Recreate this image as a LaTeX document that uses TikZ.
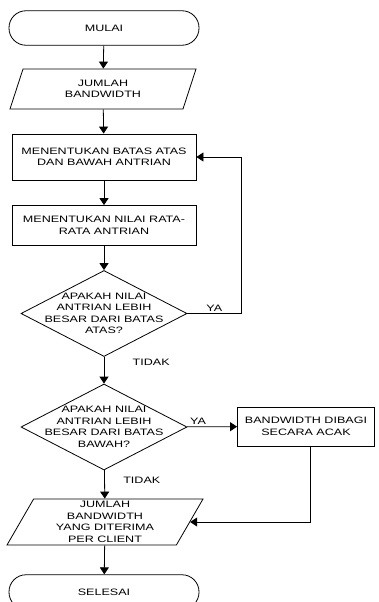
\documentclass[tikz,border=0pt]{standalone}
\usepackage{fontspec}
\setmainfont{Liberation Sans}[FakeStretch=1.35]
\usetikzlibrary{shapes.geometric}
\usetikzlibrary{arrows.meta}

\begin{document}
\begin{tikzpicture}
[x=1pt,y=-1pt,line width=0.8pt,%
  every node/.style={font=\fontsize{9.3}{11.5}\selectfont,align=center},%
  terminal/.style={draw,rectangle,rounded corners=17pt,minimum width=190pt,minimum height=34.5pt},%
  io/.style={draw,trapezium,trapezium left angle=54,trapezium right angle=126,%
    trapezium stretches body,inner sep=0pt,minimum width=186pt,minimum height=40pt},%
  process/.style={draw,rectangle,minimum width=184pt,minimum height=46pt},%
  decision/.style={draw,diamond,inner sep=0pt,minimum width=166pt,minimum height=86pt},%
  flow/.style={-{Triangle[length=7pt,width=9pt]}}]
\useasboundingbox (0,0) rectangle (379,602);
\node[terminal] (mulai) at (104,28) {MULAI};
\node[io] (jumlah) at (103,89) {JUMLAH\\BANDWIDTH};
\node[process] (batas) at (104,157) {MENENTUKAN BATAS ATAS\\DAN BAWAH ANTRIAN};
\node[process,minimum height=40pt] (rata) at (104,225.5)
  {MENENTUKAN NILAI RATA-\\RATA ANTRIAN};
\node[decision] (cekatas) at (104,313.5) {};
\node (teksatas) at (cekatas) {APAKAH NILAI\\ANTRIAN LEBIH\\BESAR DARI BATAS\\ATAS?};
\node[decision] (cekbawah) at (104,427) {};
\node (teksbawah) at (cekbawah) {APAKAH NILAI\\ANTRIAN LEBIH\\BESAR DARI BATAS\\BAWAH?};
\node[process,minimum width=137pt,minimum height=39pt] (acak) at (306,426.5)
  {BANDWIDTH DIBAGI\\SECARA ACAK};
\node[io,trapezium left angle=57,trapezium right angle=123,%
  minimum width=196pt,minimum height=46pt] (terima) at (105,522)
  {JUMLAH\\BANDWIDTH\\YANG DITERIMA\\PER CLIENT};
\node[terminal] (selesai) at (104,592) {SELESAI};

\draw[flow] (mulai) -- (jumlah);
\draw[flow] (jumlah) -- (batas);
\draw[flow] (batas) -- (rata);
\draw[flow] (rata) -- (cekatas);
\draw[flow] (cekatas.east) -- node[above,inner sep=2pt] (ya1) {YA} ++(54,0)
  |- (batas.east);
\draw[flow] (cekatas) -- node[pos=0.22,anchor=west,xshift=25pt] (tidak1) {TIDAK}
  (cekbawah);
\draw[flow] (cekbawah) -- node[pos=0.22,above,inner sep=2pt] (ya2) {YA} (acak);
\draw[flow] (cekbawah) -- node[pos=0.37,anchor=west,xshift=15pt] (tidak2) {TIDAK}
  (terima);
\draw[flow] ([xshift=4pt]acak.south) |- (terima.east);
\draw[flow] (terima) -- (selesai);
\end{tikzpicture}
\end{document}
